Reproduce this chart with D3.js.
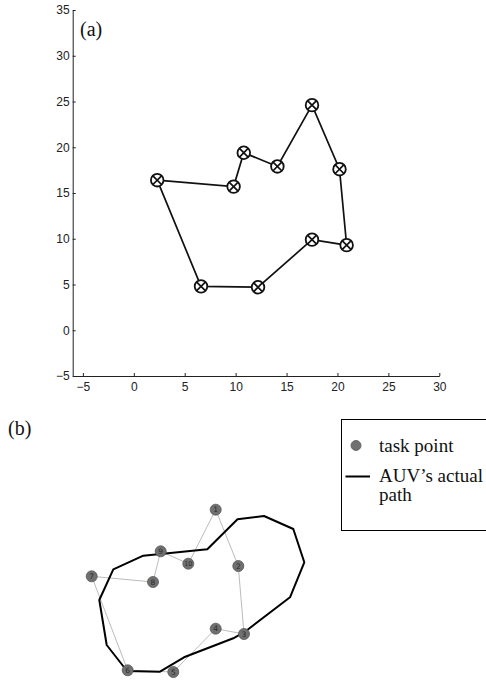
<!DOCTYPE html>
<html>
<head>
<meta charset="utf-8">
<script src="https://cdn.jsdelivr.net/npm/d3@7"></script>
<style>
  body { margin: 0; background: #fff; }
  svg { display: block; }
  .tick text { font-family: "Liberation Sans", Arial, sans-serif; font-size: 12px; fill: #222; }
  .serif { font-family: "Liberation Serif", "Times New Roman", serif; fill: #111; }
</style>
</head>
<body>
<div id="chart"></div>
<script>
// (a) planned tour, visited in order and closed back to the start
const tourX = [2.3, 9.8, 10.8, 14.1, 17.5, 20.2, 20.9, 17.5, 12.2, 6.6];
const tourY = [16.4, 15.7, 19.4, 17.9, 24.6, 17.6, 9.3, 9.9, 4.7, 4.8];
const xTicks = [-5, 0, 5, 10, 15, 20, 25, 30];
const yTicks = [-5, 0, 5, 10, 15, 20, 25, 30, 35];

// (b) task points (ids 1..10) and the AUV's actual path
const taskIds = [1, 2, 3, 4, 5, 6, 7, 8, 9, 10];
const taskX = [13.57, 15.83, 16.4, 13.57, 9.33, 4.77, 1.17, 7.3, 8.07, 10.83];
const taskY = [17.03, 11.4, 4.6, 5.13, 0.8, 0.97, 10.37, 9.8, 12.87, 11.63];
const pathX = [1.93, 3.33, 6.33, 12.73, 15.75, 18.4, 21.33, 22.43, 21.0, 16.5, 15.33, 10.4, 8.0, 4.7, 2.67];
const pathY = [8.0, 11.07, 12.43, 13.07, 16.07, 16.4, 15.1, 11.77, 8.27, 4.83, 4.17, 2.27, 0.83, 0.9, 3.5];

const W = 486, H = 681;
const svg = d3.select("#chart").append("svg").attr("width", W).attr("height", H);

/* ---------- panel (a) ---------- */
const x = d3.scaleLinear().domain([-6, 30]).range([72.7, 439.3]);
const y = d3.scaleLinear().domain([-5, 35]).range([376, 10]);

const gA = svg.append("g");

gA.append("g")
    .attr("transform", "translate(0," + y(-5) + ")")
    .call(d3.axisBottom(x).tickValues(xTicks).tickSizeInner(-3).tickSizeOuter(0).tickPadding(6)
        .tickFormat(d => d < 0 ? "\u2212" + Math.abs(d) : d))
    .call(g => g.selectAll("path, line").attr("stroke", "#222"));

gA.append("g")
    .attr("transform", "translate(" + x(-6) + ",0)")
    .call(d3.axisLeft(y).tickValues(yTicks).tickSizeInner(-3).tickSizeOuter(0).tickPadding(3)
        .tickFormat(d => d < 0 ? "\u2212" + Math.abs(d) : d))
    .call(g => g.selectAll("path, line").attr("stroke", "#222"));

const tour = tourX.map((v, i) => [v, tourY[i]]);

gA.append("path")
    .datum(tour)
    .attr("fill", "none")
    .attr("stroke", "#111")
    .attr("stroke-width", 1.7)
    .attr("d", d3.line().x(d => x(d[0])).y(d => y(d[1])).curve(d3.curveLinearClosed));

const mk = gA.selectAll(".mk").data(tour).enter().append("g")
    .attr("class", "mk")
    .attr("transform", d => "translate(" + x(d[0]) + "," + y(d[1]) + ")");
mk.append("circle").attr("r", 6.3).attr("fill", "#fff").attr("stroke", "#111").attr("stroke-width", 1.8);
mk.append("path").attr("d", "M-4.3,-4.3L4.3,4.3M-4.3,4.3L4.3,-4.3").attr("stroke", "#111").attr("stroke-width", 1.7);

gA.append("text").attr("class", "serif").attr("x", 80).attr("y", 36)
    .attr("font-size", 20).text("(a)");

/* ---------- panel (b) ---------- */
const bx = d3.scaleLinear().domain([0, 24]).range([80, 320]);
const by = d3.scaleLinear().domain([0, 18]).range([680, 500]);

const gB = svg.append("g");

gB.append("text").attr("class", "serif").attr("x", 8).attr("y", 435)
    .attr("font-size", 20).text("(b)");

const tasks = taskIds.map((id, i) => ({id: id, x: taskX[i], y: taskY[i]}));

// thin grey edges of the planned tour 1-2-...-10-1
gB.append("path")
    .datum(tasks)
    .attr("fill", "none")
    .attr("stroke", "#aaa")
    .attr("stroke-width", 0.8)
    .attr("d", d3.line().x(d => bx(d.x)).y(d => by(d.y)).curve(d3.curveLinearClosed));

// actual path
const auv = pathX.map((v, i) => [v, pathY[i]]);
gB.append("path")
    .datum(auv)
    .attr("fill", "none")
    .attr("stroke", "#000")
    .attr("stroke-width", 2)
    .attr("stroke-linejoin", "round")
    .attr("d", d3.line().x(d => bx(d[0])).y(d => by(d[1])).curve(d3.curveLinearClosed));

const node = gB.selectAll(".node").data(tasks).enter().append("g")
    .attr("class", "node")
    .attr("transform", d => "translate(" + bx(d.x) + "," + by(d.y) + ")");
node.append("circle").attr("r", 5.5).attr("fill", "#707070").attr("stroke", "#555").attr("stroke-width", 0.8);
node.append("text").text(d => d.id)
    .attr("text-anchor", "middle").attr("dy", "0.35em")
    .attr("font-family", "DejaVu Sans, sans-serif")
    .attr("font-size", d => d.id > 9 ? 6.5 : 7.5)
    .attr("fill", "#2a2a2a");

// legend
const lg = gB.append("g").attr("transform", "translate(341.5,419.5)");
lg.append("rect").attr("width", 160).attr("height", 111)
    .attr("fill", "#fff").attr("stroke", "#000").attr("stroke-width", 1);
lg.append("circle").attr("cx", 14.5).attr("cy", 26).attr("r", 5).attr("fill", "#707070").attr("stroke", "#555").attr("stroke-width", 0.8);
lg.append("text").attr("class", "serif").attr("x", 37.5).attr("y", 32).attr("font-size", 19).text("task point");
lg.append("line").attr("x1", 4).attr("x2", 28.5).attr("y1", 57).attr("y2", 57).attr("stroke", "#000").attr("stroke-width", 2);
lg.append("text").attr("class", "serif").attr("x", 37.5).attr("y", 62).attr("font-size", 19).text("AUV\u2019s actual");
lg.append("text").attr("class", "serif").attr("x", 37.5).attr("y", 81).attr("font-size", 19).text("path");
</script>
</body>
</html>
